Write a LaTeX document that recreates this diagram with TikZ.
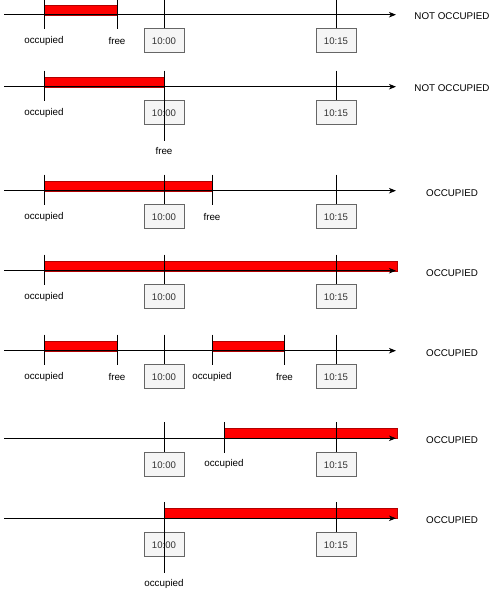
\documentclass[tikz,border=0pt]{standalone}
\usepackage{fontspec}
\setmainfont{Liberation Sans}
\usetikzlibrary{arrows.meta}
\definecolor{boxfill}{HTML}{F5F5F5}
\definecolor{boxline}{HTML}{666666}
\definecolor{boxtext}{HTML}{333333}
\definecolor{barline}{HTML}{B20000}
\tikzset{
  lbl/.style={font=\fontsize{9.8}{11}\selectfont, inner sep=0pt, text=black},
  timebox/.style={draw=boxline, fill=boxfill, line width=0.8pt, minimum width=40pt, minimum height=24pt, inner sep=0pt, font=\fontsize{9.6}{11}\selectfont, text=boxtext},
  axis/.style={line width=0.8pt, -{Stealth[length=7pt,width=5.5pt,inset=2pt]}},
  tick/.style={line width=0.8pt},
  bar/.style={fill=red, draw=barline, line width=0.4pt},
}
\begin{document}
\begin{tikzpicture}[x=1pt,y=-1pt]
\useasboundingbox (0,0) rectangle (498,595);

% ---------- Row 1 (Y=14.7)
\def\Y{14.7}
\draw[bar] (44,\Y-10) rectangle (117,\Y);
\coordinate (a1s) at (4,\Y); \coordinate (a1e) at (396,\Y);
\draw[axis] (a1s) -- (a1e);
\node[timebox] (b1a) at (164,\Y+26) {10:00};
\node[timebox] (b1b) at (336,\Y+26) {10:15};
\coordinate (k1a) at (164,\Y-16); \coordinate (k1b) at (336,\Y-16);
\draw[tick] (k1a) -- (b1a.north);
\draw[tick] (k1b) -- (b1b.north);
\coordinate (o1t) at (44,\Y-16); \coordinate (o1b) at (44,\Y+14);
\draw[tick] (o1t) -- (o1b);
\node[lbl] (l1o) at (44,\Y+26) {occupied};
\coordinate (f1t) at (117,\Y-16); \coordinate (f1b) at (117,\Y+14);
\draw[tick] (f1t) -- (f1b);
\node[lbl] (l1f) at (117,\Y+26) {free};
\node[lbl] (s1) at (452,\Y+1.5) {NOT OCCUPIED};

% ---------- Row 2 (Y=86.7)
\def\Y{86.7}
\draw[bar] (44,\Y-10) rectangle (164,\Y);
\coordinate (a2s) at (4,\Y); \coordinate (a2e) at (396,\Y);
\draw[axis] (a2s) -- (a2e);
\node[timebox] (b2a) at (164,\Y+26) {10:00};
\node[timebox] (b2b) at (336,\Y+26) {10:15};
\coordinate (k2b) at (336,\Y-16);
\draw[tick] (k2b) -- (b2b.north);
\coordinate (o2t) at (44,\Y-16); \coordinate (o2b) at (44,\Y+14);
\draw[tick] (o2t) -- (o2b);
\node[lbl] (l2o) at (44,\Y+26) {occupied};
\coordinate (f2t) at (164,\Y-16); \coordinate (f2b) at (164,\Y+54);
\draw[tick] (f2t) -- (f2b);
\node[lbl] (l2f) at (164,\Y+64) {free};
\node[lbl] (s2) at (452,\Y+1.5) {NOT OCCUPIED};

% ---------- Row 3 (Y=190.7)
\def\Y{190.7}
\draw[bar] (44,\Y-10) rectangle (212,\Y);
\coordinate (a3s) at (4,\Y); \coordinate (a3e) at (396,\Y);
\draw[axis] (a3s) -- (a3e);
\node[timebox] (b3a) at (164,\Y+26) {10:00};
\node[timebox] (b3b) at (336,\Y+26) {10:15};
\coordinate (k3a) at (164,\Y-16); \coordinate (k3b) at (336,\Y-16);
\draw[tick] (k3a) -- (b3a.north);
\draw[tick] (k3b) -- (b3b.north);
\coordinate (o3t) at (44,\Y-16); \coordinate (o3b) at (44,\Y+14);
\draw[tick] (o3t) -- (o3b);
\node[lbl] (l3o) at (44,\Y+26) {occupied};
\coordinate (f3t) at (212,\Y-16); \coordinate (f3b) at (212,\Y+14);
\draw[tick] (f3t) -- (f3b);
\node[lbl] (l3f) at (212,\Y+26) {free};
\node[lbl] (s3) at (452,\Y+2) {OCCUPIED};

% ---------- Row 4 (Y=270.7)
\def\Y{270.7}
\draw[bar] (44,\Y-10) rectangle (396.7,\Y);
\coordinate (a4s) at (4,\Y); \coordinate (a4e) at (396,\Y);
\draw[axis] (a4s) -- (a4e);
\node[timebox] (b4a) at (164,\Y+26) {10:00};
\node[timebox] (b4b) at (336,\Y+26) {10:15};
\coordinate (k4a) at (164,\Y-16); \coordinate (k4b) at (336,\Y-16);
\draw[tick] (k4a) -- (b4a.north);
\draw[tick] (k4b) -- (b4b.north);
\coordinate (o4t) at (44,\Y-16); \coordinate (o4b) at (44,\Y+14);
\draw[tick] (o4t) -- (o4b);
\node[lbl] (l4o) at (44,\Y+26) {occupied};
\node[lbl] (s4) at (452,\Y+2) {OCCUPIED};

% ---------- Row 5 (Y=350.7)
\def\Y{350.7}
\draw[bar] (44,\Y-10) rectangle (117,\Y);
\draw[bar] (212,\Y-10) rectangle (284.5,\Y);
\coordinate (a5s) at (4,\Y); \coordinate (a5e) at (396,\Y);
\draw[axis] (a5s) -- (a5e);
\node[timebox] (b5a) at (164,\Y+26) {10:00};
\node[timebox] (b5b) at (336,\Y+26) {10:15};
\coordinate (k5a) at (164,\Y-16); \coordinate (k5b) at (336,\Y-16);
\draw[tick] (k5a) -- (b5a.north);
\draw[tick] (k5b) -- (b5b.north);
\coordinate (o5t) at (44,\Y-16); \coordinate (o5b) at (44,\Y+14);
\draw[tick] (o5t) -- (o5b);
\node[lbl] (l5o) at (44,\Y+26) {occupied};
\coordinate (f5t) at (117,\Y-16); \coordinate (f5b) at (117,\Y+14);
\draw[tick] (f5t) -- (f5b);
\node[lbl] (l5f) at (117,\Y+26) {free};
\coordinate (p5t) at (212,\Y-16); \coordinate (p5b) at (212,\Y+14);
\draw[tick] (p5t) -- (p5b);
\node[lbl] (l5p) at (212,\Y+26) {occupied};
\coordinate (g5t) at (284.5,\Y-16); \coordinate (g5b) at (284.5,\Y+14);
\draw[tick] (g5t) -- (g5b);
\node[lbl] (l5g) at (284.5,\Y+26) {free};
\node[lbl] (s5) at (452,\Y+2) {OCCUPIED};

% ---------- Row 6 (Y=438.3)
\def\Y{438.3}
\draw[bar] (224,\Y-10) rectangle (396.7,\Y);
\coordinate (a6s) at (4,\Y); \coordinate (a6e) at (396,\Y);
\draw[axis] (a6s) -- (a6e);
\node[timebox] (b6a) at (164,\Y+26.4) {10:00};
\node[timebox] (b6b) at (336,\Y+26.4) {10:15};
\coordinate (k6a) at (164,\Y-16); \coordinate (k6b) at (336,\Y-16);
\draw[tick] (k6a) -- (b6a.north);
\draw[tick] (k6b) -- (b6b.north);
\coordinate (o6t) at (224,\Y-16); \coordinate (o6b) at (224,\Y+15);
\draw[tick] (o6t) -- (o6b);
\node[lbl] (l6o) at (224,\Y+26) {occupied};
\node[lbl] (s6) at (452,\Y+2) {OCCUPIED};

% ---------- Row 7 (Y=518.3)
\def\Y{518.3}
\draw[bar] (164,\Y-10) rectangle (396.7,\Y);
\coordinate (a7s) at (4,\Y); \coordinate (a7e) at (396,\Y);
\draw[axis] (a7s) -- (a7e);
\node[timebox] (b7a) at (164,\Y+26.4) {10:00};
\node[timebox] (b7b) at (336,\Y+26.4) {10:15};
\coordinate (k7b) at (336,\Y-16);
\draw[tick] (k7b) -- (b7b.north);
\coordinate (o7t) at (164,\Y-16); \coordinate (o7b) at (164,\Y+54.4);
\draw[tick] (o7t) -- (o7b);
\node[lbl] (l7o) at (164,\Y+66) {occupied};
\node[lbl] (s7) at (452,\Y+2) {OCCUPIED};
\end{tikzpicture}
\end{document}
